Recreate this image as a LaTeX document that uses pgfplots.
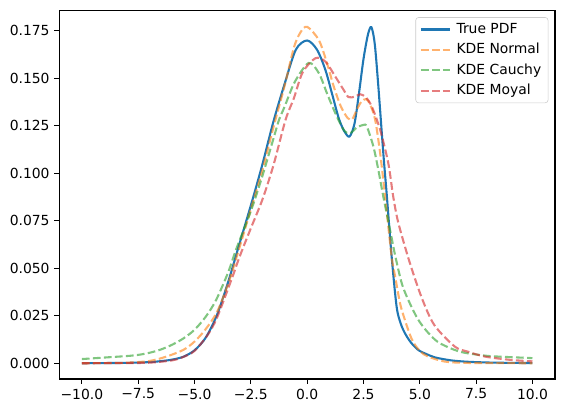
\documentclass[border=0pt]{standalone}
\usepackage{fontspec}
\setmainfont{DejaVu Sans}
\usepackage{pgfplots}
\pgfplotsset{compat=1.18}
\usetikzlibrary{calc}
\definecolor{tabblue}{HTML}{1F77B4}
\definecolor{taborange}{HTML}{FF7F0E}
\definecolor{tabgreen}{HTML}{2CA02C}
\definecolor{tabred}{HTML}{D62728}
\begin{document}
\fontsize{10}{12}\selectfont
\begin{tikzpicture}
\begin{axis}[
  scale only axis, width=356.9pt, height=265.5pt,
  xmin=-11, xmax=11, ymin=-0.0083, ymax=0.1857,
  axis line style={line width=0.8pt},
  tick align=outside, tick pos=left, major tick length=3.5pt,
  every tick/.style={black, line width=0.8pt},
  xtick={-10,-7.5,-5,-2.5,0,2.5,5,7.5,10},
  xticklabels={−10.0,−7.5,−5.0,−2.5,0.0,2.5,5.0,7.5,10.0},
  ytick={0,0.025,0.05,0.075,0.1,0.125,0.15,0.175},
  yticklabels={0.000,0.025,0.050,0.075,0.100,0.125,0.150,0.175},
  ticklabel style={font=\fontsize{10}{12}\selectfont},
  legend cell align=left,
  legend style={at={(rel axis cs:1,1)}, anchor=north east, xshift=-4.8pt, yshift=-5pt,
    draw=black!20, rounded corners=2pt, fill=white, fill opacity=0.8, text opacity=1,
    inner xsep=2.9pt, inner ysep=1.3pt,
    font=\fontsize{10}{12}\selectfont,
    nodes={inner ysep=2.7pt, text height=7.3pt, text depth=2pt},
    /tikz/every odd column/.append style={column sep=2pt}},
  legend image code/.code={\draw[#1] (0pt,0pt) -- (21pt,0pt);},
]
\addplot[tabblue, line width=1.5pt, smooth] coordinates {
(-10,0.0000) (-9,0.0001) (-8,0.0002) (-7,0.0006) (-6.5,0.0011) (-6,0.0019)
(-5.5,0.0034) (-5,0.0068) (-4.5,0.0135) (-4,0.0255) (-3.5,0.0430) (-3,0.0630)
(-2.5,0.0830) (-2,0.1040) (-1.5,0.1270) (-1,0.1470) (-0.5,0.1650) (0,0.1698)
(0.44,0.1649) (0.81,0.1543) (1.1,0.1420) (1.4,0.1290) (1.65,0.1220) (1.88,0.1193)
(2.1,0.1260) (2.3,0.1420) (2.5,0.1600) (2.7,0.1730) (2.85,0.1768) (3.0,0.1680)
(3.16,0.1456) (3.38,0.1105) (3.53,0.0890) (3.75,0.0561) (3.97,0.0298) (4.15,0.0210)
(4.34,0.0158) (4.6,0.0110) (4.93,0.0070) (5.3,0.0048) (5.7,0.0030) (6.4,0.0015)
(7.1,0.0008) (8,0.0004) (9,0.0002) (10,0.0001)
};
\addlegendentry{True PDF}
\addplot[taborange, line width=1.5pt, opacity=0.6, dash pattern=on 5.55pt off 2.4pt, smooth] coordinates {
(-10,0.0000) (-9,0.0001) (-8,0.0003) (-7,0.0012) (-6.25,0.0035) (-5.5,0.0070)
(-5,0.0114) (-4.5,0.0180) (-4,0.0270) (-3.5,0.0420) (-3,0.0610) (-2.5,0.0810)
(-2,0.1010) (-1.5,0.1240) (-1,0.1460) (-0.59,0.1660) (-0.3,0.1740) (0,0.1770)
(0.52,0.1700) (0.88,0.1579) (1.18,0.1456) (1.5,0.1350) (1.8,0.1290) (2.0,0.1284)
(2.2,0.1333) (2.4,0.1375) (2.62,0.1390) (2.8,0.1360) (3.02,0.1280) (3.24,0.1105)
(3.46,0.0877) (3.75,0.0560) (3.9,0.0460) (4.05,0.0360) (4.2,0.0280) (4.63,0.0130)
(5.0,0.0065) (5.37,0.0035) (6.1,0.0009) (7,0.0002) (8,0.0001) (10,0.0000)
};
\addlegendentry{KDE Normal}
\addplot[tabgreen, line width=1.5pt, opacity=0.6, dash pattern=on 5.55pt off 2.4pt, smooth] coordinates {
(-10,0.0022) (-9,0.0030) (-8,0.0038) (-7.5,0.0044) (-7,0.0055) (-6.5,0.0072)
(-6,0.0097) (-5.5,0.0130) (-5,0.0176) (-4.5,0.0245) (-4.04,0.0333) (-3.5,0.0480)
(-3.16,0.0597) (-2.5,0.0800) (-2,0.0980) (-1.5,0.1180) (-1.25,0.1280) (-1,0.1350)
(-0.55,0.1480) (0.07,0.1580) (0.52,0.1526) (0.88,0.1420) (1.25,0.1316) (1.62,0.1228)
(1.9,0.1210) (2.2,0.1240) (2.5,0.1254) (2.65,0.1245) (2.94,0.1140) (3.16,0.1017)
(3.38,0.0877) (3.75,0.0660) (3.9,0.0570) (4.2,0.0420) (4.5,0.0330) (4.9,0.0235)
(5.3,0.0170) (5.8,0.0112) (6.5,0.0072) (7,0.0055) (7.9,0.0040) (8.5,0.0035) (10,0.0027)
};
\addlegendentry{KDE Cauchy}
\addplot[tabred, line width=1.5pt, opacity=0.6, dash pattern=on 5.55pt off 2.4pt, smooth] coordinates {
(-10,0.0000) (-8,0.0001) (-7,0.0003) (-6,0.0015) (-5.5,0.0033) (-5,0.0065)
(-4.41,0.0150) (-4,0.0240) (-3.31,0.0456) (-3,0.0560) (-2.5,0.0710) (-1.99,0.0860)
(-1.5,0.1040) (-0.96,0.1280) (-0.59,0.1394) (-0.2,0.1530) (0.37,0.1605) (0.81,0.1587)
(1.25,0.1508) (1.62,0.1438) (1.84,0.1400) (2.13,0.1403) (2.35,0.1415) (2.6,0.1400)
(2.87,0.1350) (3.24,0.1228) (3.6,0.1053) (3.82,0.0877) (4.05,0.0737) (4.56,0.0527)
(5.1,0.0340) (5.65,0.0200) (6.55,0.0088) (7.1,0.0062) (7.9,0.0035) (9,0.0018) (10,0.0010)
};
\addlegendentry{KDE Moyal}
\end{axis}
\pgfresetboundingbox
\path ($(current axis.south west)+(-42.7pt,-24.5pt)$) rectangle ($(current axis.north east)+(7.2pt,7.4pt)$);
\end{tikzpicture}
\end{document}
